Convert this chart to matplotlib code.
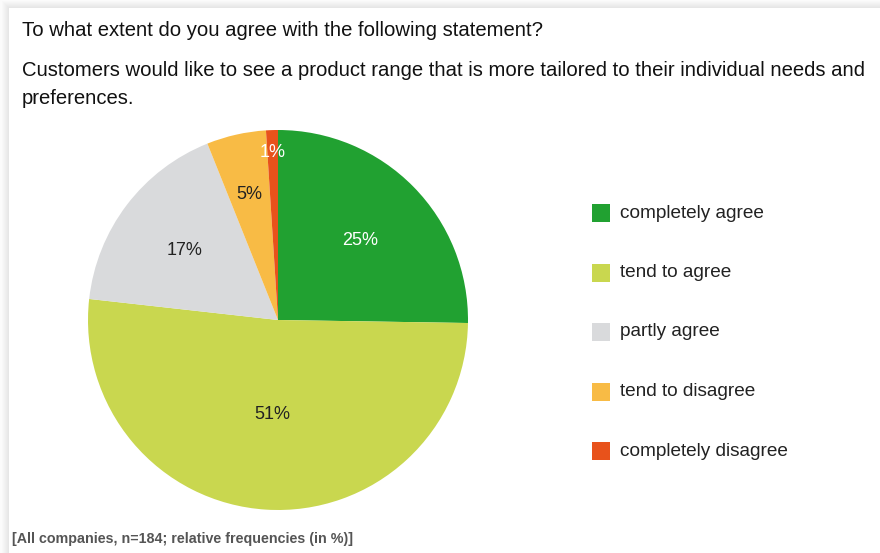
import matplotlib.pyplot as plt
from matplotlib.patches import Rectangle
import numpy as np

# survey answers (percent)
categories = ['completely agree', 'tend to agree', 'partly agree',
              'tend to disagree', 'completely disagree']
shares = [25, 51, 17, 5, 1]
colors = ['#21a131', '#c9d74f', '#d9dadc', '#f8bb45', '#e8521b']
label_colors = ['white', '#222222', '#222222', '#222222', 'white']
label_radius = [0.61, 0.49, 0.62, 0.69, 0.89]

question = 'To what extent do you agree with the following statement?'
statement = ('Customers would like to see a product range that is more tailored to their individual needs and\n'
             'preferences.')
footer = '[All companies, n=184; relative frequencies (in %)]'

plt.rcParams['font.family'] = ['Liberation Sans', 'DejaVu Sans']

W, H = 880, 553
fig = plt.figure(figsize=(W / 100, H / 100), dpi=100)
fig.patch.set_facecolor('white')

# soft panel shadow along the top and left edges
bg = fig.add_axes([0, 0, 1, 1])
bg.set_xlim(0, W)
bg.set_ylim(H, 0)
bg.axis('off')
for i, c in enumerate(np.linspace(0.90, 0.985, 8)):
    bg.add_patch(Rectangle((0, 0), W, 8 - i, color=str(c), lw=0))
    bg.add_patch(Rectangle((0, 0), 9 - i, H, color=str(c), lw=0))
bg.add_patch(Rectangle((9, 8), W, H, color='white', lw=0))

fig.text(22 / W, 1 - 31 / H, question, fontsize=14.6, va='center', color='#111111')
fig.text(22 / W, 1 - 85 / H, statement, fontsize=14.6, va='center', color='#111111',
         linespacing=1.6)
fig.text(12 / W, 1 - 539 / H, footer, fontsize=10.3, fontweight='bold', va='center',
         color='#555555')

# pie
cx, cy, r = 278, 320, 190
ax = fig.add_axes([(cx - r) / W, 1 - (cy + r) / H, 2 * r / W, 2 * r / H])
wedges, _ = ax.pie(shares, colors=colors, startangle=90, counterclock=False,
                   wedgeprops=dict(linewidth=0))
ax.set_xlim(-1, 1)
ax.set_ylim(-1, 1)
ax.set_aspect('equal')

for w, val, rad, tc in zip(wedges, shares, label_radius, label_colors):
    ang = np.deg2rad((w.theta1 + w.theta2) / 2)
    ax.text(rad * np.cos(ang), rad * np.sin(ang), f'{val}%', ha='center',
            va='center_baseline', fontsize=13, color=tc)

# legend
for i, (name, col) in enumerate(zip(categories, colors)):
    y = 213 + i * 59.5
    bg.add_patch(Rectangle((592, y - 9), 18, 18, color=col, lw=0))
    bg.text(620, y, name, fontsize=13.7, va='center', color='#222222')

fig.savefig('out.png', dpi=100)
